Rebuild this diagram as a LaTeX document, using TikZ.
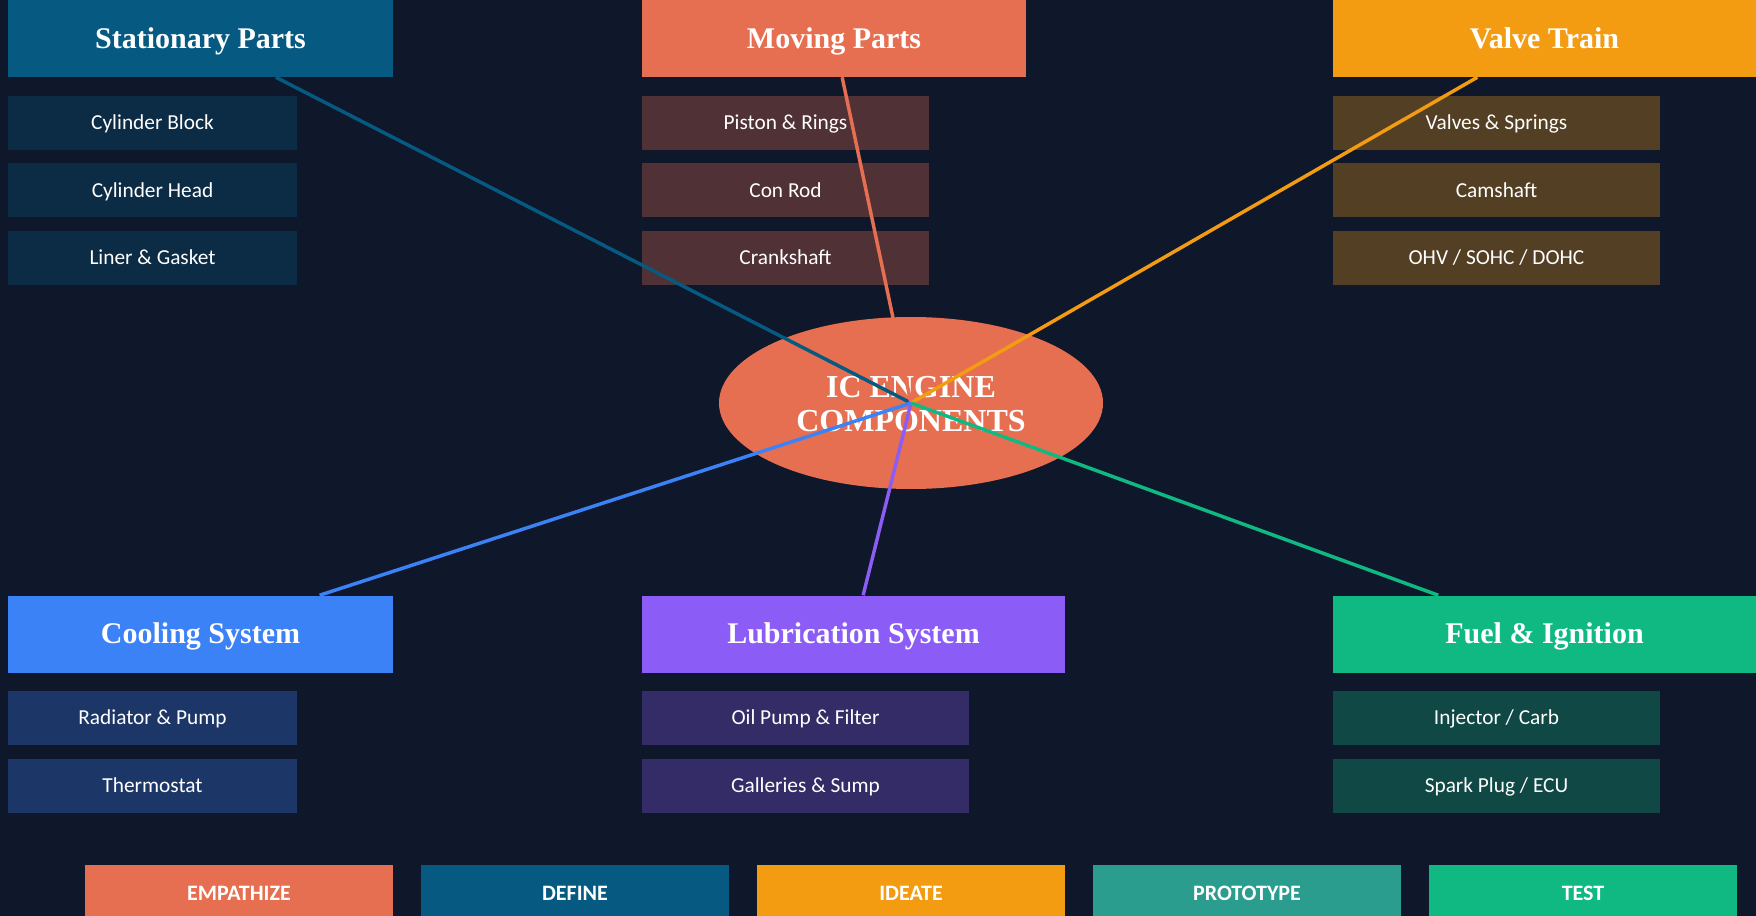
\documentclass[tikz,border=0pt]{standalone}
\usepackage{fontspec}
\setmainfont{Liberation Serif}
\newfontfamily\itemfont{Carlito}
\usetikzlibrary{shapes.geometric}
\definecolor{bg}{HTML}{0F172A}
\definecolor{cStat}{HTML}{065A82}
\definecolor{cMov}{HTML}{E76F51}
\definecolor{cVal}{HTML}{F39C12}
\definecolor{cCool}{HTML}{3B82F6}
\definecolor{cLub}{HTML}{8B5CF6}
\definecolor{cFuel}{HTML}{10B981}
\definecolor{cProt}{HTML}{2A9D8F}
\begin{document}
\begin{tikzpicture}[x=0.75pt,y=-0.75pt,
  hdr/.style={rectangle, inner sep=0pt, text=white, font=\fontsize{22.5}{26}\selectfont\bfseries, text height=14.9pt, text depth=0pt, minimum height=77*0.75pt},
  itembox/.style={rectangle, inner sep=0pt, text=white, font=\itemfont\fontsize{16}{19}\selectfont, text height=10.3pt, text depth=0pt, minimum height=54*0.75pt},
  phase/.style={rectangle, inner sep=0pt, text=white, font=\itemfont\fontsize{16.5}{19}\selectfont\bfseries, text height=10.6pt, text depth=0pt, minimum height=56*0.75pt, minimum width=308*0.75pt},
  link/.style={line width=2.6pt}]
\useasboundingbox (0,0) rectangle (1756,916);
\clip (0,0) rectangle (1756,916);
\fill[bg] (0,0) rectangle (1756,916);

% centre
\node[ellipse, fill=cMov, inner sep=0pt, minimum width=384*0.75pt, minimum height=172*0.75pt] (core) at (911,403) {};
\node[text=white, font=\fontsize{24}{26}\selectfont\bfseries, align=center] (coretext) at (911,404) {IC ENGINE\\COMPONENTS};

% headers
\node[hdr, fill=cStat, minimum width=385*0.75pt] (stat) at (200.5,38.5) {Stationary Parts};
\node[hdr, fill=cMov, minimum width=384*0.75pt] (mov) at (834,38.5) {Moving Parts};
\node[hdr, fill=cVal, minimum width=423*0.75pt] (val) at (1544.5,38.5) {Valve Train};
\node[hdr, fill=cCool, minimum width=385*0.75pt] (cool) at (200.5,634) {Cooling System};
\node[hdr, fill=cLub, minimum width=423*0.75pt] (lub) at (853.5,634) {Lubrication System};
\node[hdr, fill=cFuel, minimum width=423*0.75pt] (fuel) at (1544.5,634) {Fuel \& Ignition};

% items
\node[itembox, fill=cStat!30!bg, minimum width=289*0.75pt] (s1) at (152.5,123) {Cylinder Block};
\node[itembox, fill=cStat!30!bg, minimum width=289*0.75pt] (s2) at (152.5,190.5) {Cylinder Head};
\node[itembox, fill=cStat!30!bg, minimum width=289*0.75pt] (s3) at (152.5,258) {Liner \& Gasket};
\node[itembox, fill=cMov!30!bg, minimum width=287*0.75pt] (m1) at (785.5,123) {Piston \& Rings};
\node[itembox, fill=cMov!30!bg, minimum width=287*0.75pt] (m2) at (785.5,190.5) {Con Rod};
\node[itembox, fill=cMov!30!bg, minimum width=287*0.75pt] (m3) at (785.5,258) {Crankshaft};
\node[itembox, fill=cVal!30!bg, minimum width=327*0.75pt] (v1) at (1496.5,123) {Valves \& Springs};
\node[itembox, fill=cVal!30!bg, minimum width=327*0.75pt] (v2) at (1496.5,190.5) {Camshaft};
\node[itembox, fill=cVal!30!bg, minimum width=327*0.75pt] (v3) at (1496.5,258) {OHV / SOHC / DOHC};
\node[itembox, fill=cCool!30!bg, minimum width=289*0.75pt] (c1) at (152.5,718) {Radiator \& Pump};
\node[itembox, fill=cCool!30!bg, minimum width=289*0.75pt] (c2) at (152.5,786) {Thermostat};
\node[itembox, fill=cLub!30!bg, minimum width=327*0.75pt] (l1) at (805.5,718) {Oil Pump \& Filter};
\node[itembox, fill=cLub!30!bg, minimum width=327*0.75pt] (l2) at (805.5,786) {Galleries \& Sump};
\node[itembox, fill=cFuel!30!bg, minimum width=327*0.75pt] (f1) at (1496.5,718) {Injector / Carb};
\node[itembox, fill=cFuel!30!bg, minimum width=327*0.75pt] (f2) at (1496.5,786) {Spark Plug / ECU};

% connectors
\draw[link, cStat] (core.center) -- (stat);
\draw[link, cMov] (core.center) -- (mov);
\draw[link, cVal] (core.center) -- (val);
\draw[link, cCool] (core.center) -- (cool);
\draw[link, cLub] (core.center) -- (lub);
\draw[link, cFuel] (core.center) -- (fuel);

% phases
\node[phase, fill=cMov] (p1) at (239,893) {EMPATHIZE};
\node[phase, fill=cStat] (p2) at (575,893) {DEFINE};
\node[phase, fill=cVal] (p3) at (911,893) {IDEATE};
\node[phase, fill=cProt] (p4) at (1247,893) {PROTOTYPE};
\node[phase, fill=cFuel] (p5) at (1583,893) {TEST};
\end{tikzpicture}
\end{document}
